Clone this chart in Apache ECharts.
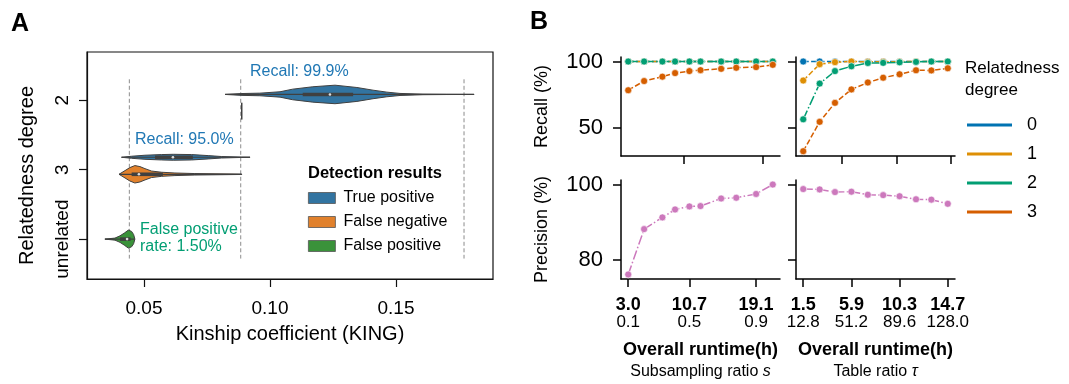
<!DOCTYPE html>
<html><head><meta charset="utf-8">
<script src="https://cdn.jsdelivr.net/npm/echarts@6/dist/echarts.min.js"></script>
<style>html,body{margin:0;padding:0;background:#fff}#c{width:1069px;height:384px}</style>
</head><body><div id="c"></div>
<script>
// ---------------- Panel A data ----------------
const relatednessCategories = ['2', '3', 'unrelated'];
const categoryTickPos = [0, 1, 2];
const kinshipTicks = [0.05, 0.10, 0.15];
const kingThresholds = [0.0442, 0.0884, 0.177];
const hueNames = ['True positive', 'False negative', 'False positive'];

// True positive, degree 2
const tp2Pos = -0.082;
const tp2Kinship = [0.0822, 0.0889, 0.096, 0.104, 0.109, 0.117, 0.1258, 0.1345, 0.1409, 0.1464, 0.1516, 0.1607, 0.170, 0.181];
const tp2Density = [0.0, 0.1, 0.14, 0.29, 0.57, 0.83, 1.0, 0.75, 0.46, 0.25, 0.11, 0.03, 0.01, 0.0];
const tp2Box = [0.113, 0.1238, 0.133];
// True positive, degree 3
const tp3Pos = 0.822;
const tp3Kinship = [0.0411, 0.0451, 0.0504, 0.057, 0.0616, 0.0689, 0.0755, 0.0808, 0.0888, 0.0921];
const tp3Density = [0.0, 0.11, 0.22, 0.29, 0.32, 0.29, 0.18, 0.08, 0.02, 0.0];
const tp3Box = [0.0544, 0.0615, 0.0694];
// False negative, degree 2 (single value)
const fn2Pos = 0.158;
const fn2Kinship = [0.0888];
const fn2Density = [0.91];
// False negative, degree 3
const fn3Pos = 1.067;
const fn3Kinship = [0.0401, 0.0425, 0.0444, 0.0464, 0.0484, 0.0504, 0.053, 0.057, 0.0623, 0.0702, 0.0888];
const fn3Density = [0.0, 0.4, 0.72, 0.94, 0.83, 0.61, 0.35, 0.22, 0.14, 0.08, 0.02];
const fn3Box = [0.0451, 0.048, 0.0575];
// False positive, unrelated
const fpPos = 2.0;
const fpKinship = [0.0345, 0.0385, 0.0405, 0.0422, 0.0438, 0.0451, 0.0459, 0.0464];
const fpDensity = [0.0, 0.11, 0.35, 0.65, 0.97, 0.83, 0.5, 0.0];
const fpBox = [0.0405, 0.0433, 0.0447];

// ---------------- Panel B data ----------------
const runtimeS = [3.0, 5.0, 7.3, 8.9, 10.7, 12.1, 14.7, 16.6, 19.1, 21.2];
const sRuntimeTicks = [3.0, 10.7, 19.1];
const sRatioTicks = ['0.1', '0.5', '0.9'];
const runtimeT = [1.5, 3.0, 4.4, 5.9, 7.4, 8.8, 10.3, 11.8, 13.2, 14.7];
const tRuntimeTicks = [1.5, 5.9, 10.3, 14.7];
const tRatioTicks = ['12.8', '51.2', '89.6', '128.0'];
const degreeNames = ['0', '1', '2', '3'];

const recallS0 = [100, 100, 100, 100, 100, 100, 100, 100, 100, 100];
const recallS1 = [100, 100, 100, 100, 100, 100, 100, 100, 100, 100];
const recallS2 = [100, 100, 100, 100, 100, 100, 100, 100, 100, 100];
const recallS3 = [78.4, 85.3, 88.6, 91.3, 92.8, 93.5, 94.5, 95.3, 95.8, 97.5];
const recallT0 = [100, 100, 100, 100, 100, 100, 100, 100, 100, 100];
const recallT1 = [85.7, 98.0, 99.5, 100, 99.8, 99.8, 99.9, 100, 100, 100];
const recallT2 = [56.5, 83.4, 92.8, 96.4, 98.9, 99.0, 99.4, 99.7, 100, 100];
const recallT3 = [32.5, 54.6, 68.9, 79.0, 84.2, 87.8, 90.4, 93.4, 93.3, 94.9];
const precisionS = [76.2, 88.2, 91.3, 93.4, 94.2, 94.3, 96.3, 96.5, 97.5, 100.0];
const precisionT = [98.8, 98.7, 98.0, 98.1, 97.3, 97.2, 96.9, 96.1, 96.0, 94.9];

// ---------------- styling ----------------
const FONT = 'Liberation Sans';
const violinColors = ['#3274a1', '#e1812c', '#3a923a'];
const degreeColors = ['#0173b2', '#de8f05', '#029e73', '#d55e00'];
const precisionColor = '#cc78bc';
const EDGE = '#404040';
const VIOLIN_HALF = 0.1335;
const DASHED = [5.5, 2.4];
const DASHDOT = [9.6, 2.4, 1.5, 2.4];

const violinsByHue = [
  [
    {pos: tp2Pos, kinship: tp2Kinship, density: tp2Density, box: tp2Box},
    {pos: tp3Pos, kinship: tp3Kinship, density: tp3Density, box: tp3Box}
  ],
  [
    {pos: fn2Pos, kinship: fn2Kinship, density: fn2Density, box: null},
    {pos: fn3Pos, kinship: fn3Kinship, density: fn3Density, box: fn3Box}
  ],
  [
    {pos: fpPos, kinship: fpKinship, density: fpDensity, box: fpBox}
  ]
];

function violinRenderer(violins, color) {
  return function (params, api) {
    const v = violins[params.dataIndex];
    const children = [];
    if (v.kinship.length === 1) {
      const a = api.coord([v.kinship[0], v.pos - v.density[0] * VIOLIN_HALF]);
      const b = api.coord([v.kinship[0], v.pos + v.density[0] * VIOLIN_HALF]);
      children.push({type: 'line', shape: {x1: a[0], y1: a[1], x2: b[0], y2: b[1]},
        style: {stroke: EDGE, lineWidth: 1.5}});
      return {type: 'group', children};
    }
    const upper = v.kinship.map((x, i) => api.coord([x, v.pos - v.density[i] * VIOLIN_HALF]));
    const lower = v.kinship.map((x, i) => api.coord([x, v.pos + v.density[i] * VIOLIN_HALF])).reverse();
    children.push({type: 'polygon', shape: {points: upper.concat(lower)},
      style: {fill: color, stroke: EDGE, lineWidth: 1}});
    const w0 = api.coord([v.kinship[0], v.pos]);
    const w1 = api.coord([v.kinship[v.kinship.length - 1], v.pos]);
    children.push({type: 'line', shape: {x1: w0[0], y1: w0[1], x2: w1[0], y2: w1[1]},
      style: {stroke: EDGE, lineWidth: 1.2}});
    if (v.box) {
      const q1 = api.coord([v.box[0], v.pos]);
      const q3 = api.coord([v.box[2], v.pos]);
      const md = api.coord([v.box[1], v.pos]);
      children.push({type: 'line', shape: {x1: q1[0], y1: q1[1], x2: q3[0], y2: q3[1]},
        style: {stroke: EDGE, lineWidth: 3.6}});
      children.push({type: 'circle', shape: {cx: md[0], cy: md[1], r: 1.3},
        style: {fill: '#dddddd', stroke: null}});
    }
    return {type: 'group', children};
  };
}

const series = [];
// threshold lines
series.push({
  type: 'custom', xAxisIndex: 0, yAxisIndex: 0, silent: true, z: 1,
  data: kingThresholds.map(t => [t]),
  renderItem: function (params, api) {
    const t = kingThresholds[params.dataIndex];
    const a = api.coord([t, -0.30]);
    const b = api.coord([t, 2.28]);
    return {type: 'line', shape: {x1: a[0], y1: a[1], x2: b[0], y2: b[1]},
      style: {stroke: '#8c8c8c', lineWidth: 1, lineDash: [4, 2.5]}};
  }
});
hueNames.forEach((name, h) => {
  series.push({
    type: 'custom', name, xAxisIndex: 0, yAxisIndex: 0, silent: true, z: 3,
    itemStyle: {color: violinColors[h]},
    data: violinsByHue[h].map(v => [v.box ? v.box[1] : v.kinship[0], v.pos]),
    renderItem: violinRenderer(violinsByHue[h], violinColors[h])
  });
});

function lineSeries(name, xs, ys, xi, color, dash) {
  return {
    type: 'line', name, xAxisIndex: xi, yAxisIndex: xi, silent: true,
    data: xs.map((x, i) => [x, ys[i]]),
    symbol: 'circle', symbolSize: 7, showSymbol: true,
    itemStyle: {color, borderColor: '#fff', borderWidth: 0.6},
    lineStyle: {color, width: 1.5, type: dash}
  };
}
const recallS = [recallS0, recallS1, recallS2, recallS3];
const recallT = [recallT0, recallT1, recallT2, recallT3];
const degreeDash = [DASHED, DASHED, DASHDOT, DASHED];
degreeNames.forEach((d, k) => series.push(lineSeries(d, runtimeS, recallS[k], 1, degreeColors[k], degreeDash[k])));
degreeNames.forEach((d, k) => series.push(lineSeries(d, runtimeT, recallT[k], 2, degreeColors[k], degreeDash[k])));
series.push(lineSeries('precision', runtimeS, precisionS, 3, precisionColor, DASHDOT));
series.push(lineSeries('precision', runtimeT, precisionT, 4, precisionColor, DASHDOT));

const axisLineB = {show: true, onZero: false, lineStyle: {color: '#000', width: 1.5}};
const tickB = (vals) => ({show: true, length: 8, customValues: vals, lineStyle: {color: '#000', width: 1.5}});

function bottomXAxis(grid, min, max, rtTicks, ratioTicks, nameLine2) {
  return {
    type: 'value', gridIndex: grid, min, max,
    axisLine: axisLineB, axisTick: tickB(rtTicks), splitLine: {show: false},
    axisLabel: {
      show: true, margin: 17, customValues: rtTicks, color: '#000',
      formatter: (v) => {
        const i = rtTicks.findIndex(r => Math.abs(r - v) < 1e-6);
        return '{b|' + rtTicks[i].toFixed(1) + '}\n{n|' + ratioTicks[i] + '}';
      },
      rich: {
        b: {fontFamily: FONT, fontWeight: 'bold', fontSize: 18, lineHeight: 18, color: '#000'},
        n: {fontFamily: FONT, fontSize: 17, lineHeight: 17, color: '#000'}
      }
    },
    name: nameLine2, nameLocation: 'middle', nameGap: 61,
    nameTextStyle: {
      rich: {
        b: {fontFamily: FONT, fontWeight: 'bold', fontSize: 18, lineHeight: 21, color: '#000'},
        n: {fontFamily: FONT, fontSize: 16, lineHeight: 21, color: '#000'},
        i: {fontFamily: FONT, fontStyle: 'italic', fontSize: 16, lineHeight: 21, color: '#000'}
      }
    }
  };
}
function topXAxis(grid, min, max, ticks) {
  return {type: 'value', gridIndex: grid, min, max, axisLine: axisLineB, axisTick: tickB(ticks),
    axisLabel: {show: false}, splitLine: {show: false}};
}
function yAxisB(grid, min, max, ticks, showLabel, name) {
  return {
    type: 'value', gridIndex: grid, min, max, axisLine: axisLineB, axisTick: tickB(ticks),
    splitLine: {show: false},
    axisLabel: {show: showLabel, customValues: ticks, margin: 18, fontSize: 22, fontFamily: FONT, color: '#000'},
    name: name || '', nameLocation: 'middle', nameGap: 70,
    nameTextStyle: {fontSize: 18, fontFamily: FONT, color: '#000'}
  };
}

const option = {
  animation: false,
  textStyle: {fontFamily: FONT, color: '#000'},
  grid: [
    {left: 87, top: 52, width: 406, height: 227, show: true, borderColor: '#111', borderWidth: 1.2, backgroundColor: 'transparent'},
    {left: 621, top: 57, width: 159, height: 99},
    {left: 796, top: 57, width: 159, height: 99},
    {left: 621, top: 180, width: 159, height: 99},
    {left: 796, top: 180, width: 159, height: 99}
  ],
  xAxis: [
    {
      type: 'value', gridIndex: 0, min: 0.0274, max: 0.1885,
      axisLine: {show: true, onZero: false, lineStyle: {color: '#111', width: 1.2}},
      axisTick: {show: true, length: 8, customValues: kinshipTicks, lineStyle: {color: '#111', width: 1.2}},
      axisLabel: {customValues: kinshipTicks, formatter: v => v.toFixed(2), fontSize: 19, margin: 20, color: '#000'},
      splitLine: {show: false},
      name: 'Kinship coefficient (KING)', nameLocation: 'middle', nameGap: 45,
      nameTextStyle: {fontSize: 20, color: '#000'}
    },
    topXAxis(1, 2.09, 22.11, [10, 20]),
    topXAxis(2, 0.84, 15.36, [5, 10, 15]),
    bottomXAxis(3, 2.09, 22.11, sRuntimeTicks, sRatioTicks, '{b|Overall runtime(h)}\n{n|Subsampling ratio }{i|s}'),
    bottomXAxis(4, 0.84, 15.36, tRuntimeTicks, tRatioTicks, '{b|Overall runtime(h)}\n{n|Table ratio }{i|τ}')
  ],
  yAxis: [
    {
      type: 'value', gridIndex: 0, inverse: true, min: -0.693, max: 2.574,
      axisLine: {show: true, onZero: false, lineStyle: {color: '#111', width: 1.2}},
      axisTick: {show: true, length: 8, customValues: categoryTickPos, lineStyle: {color: '#111', width: 1.2}},
      axisLabel: {customValues: categoryTickPos, rotate: 90, fontSize: 19, margin: 15, color: '#000',
        formatter: v => relatednessCategories[Math.round(v)]},
      splitLine: {show: false}
    },
    yAxisB(1, 28.9, 103.4, [50, 100], true, 'Recall (%)'),
    yAxisB(2, 28.9, 103.4, [50, 100], false),
    yAxisB(3, 75.0, 101.2, [80, 100], true, 'Precision (%)'),
    yAxisB(4, 75.0, 101.2, [80, 100], false)
  ],
  legend: [
    {
      data: hueNames, orient: 'vertical', left: 308, top: 190, padding: 0,
      icon: 'rect', itemWidth: 27, itemHeight: 11, itemGap: 8, selectedMode: false,
      itemStyle: {borderColor: '#555', borderWidth: 0.8},
      textStyle: {fontSize: 16, color: '#000', fontFamily: FONT, padding: [0, 0, 0, 3]}
    },
    {
      data: degreeNames, orient: 'vertical', left: 967, top: 116, padding: 0,
      icon: 'rect', itemWidth: 45, itemHeight: 3, itemGap: 11, selectedMode: false,
      itemStyle: {borderWidth: 0, opacity: 1},
      textStyle: {fontSize: 18, color: '#000', fontFamily: FONT, padding: [0, 0, 0, 10]}
    }
  ],
  graphic: [
    {type: 'text', x: 11, y: 24, style: {text: 'A', font: 'bold 25px "Liberation Sans"', fill: '#000', align: 'left', verticalAlign: 'middle'}},
    {type: 'text', x: 530, y: 22, style: {text: 'B', font: 'bold 25px "Liberation Sans"', fill: '#000', align: 'left', verticalAlign: 'middle'}},
    {type: 'text', x: 27, y: 175.5, rotation: Math.PI / 2, style: {text: 'Relatedness degree', font: '20px "Liberation Sans"', fill: '#000', align: 'center', verticalAlign: 'middle'}},
    {type: 'text', x: 250, y: 72, style: {text: 'Recall: 99.9%', font: '16px "Liberation Sans"', fill: '#1f77b4', align: 'left', verticalAlign: 'middle'}},
    {type: 'text', x: 135, y: 140, style: {text: 'Recall: 95.0%', font: '16px "Liberation Sans"', fill: '#1f77b4', align: 'left', verticalAlign: 'middle'}},
    {type: 'text', x: 140, y: 238.5, style: {text: 'False positive\nrate: 1.50%', font: '16px "Liberation Sans"', lineHeight: 17, fill: '#029e73', align: 'left', verticalAlign: 'middle'}},
    {type: 'text', x: 308, y: 173, style: {text: 'Detection results', font: 'bold 16.5px "Liberation Sans"', fill: '#000', align: 'left', verticalAlign: 'middle'}},
    {type: 'text', x: 965, y: 79, style: {text: 'Relatedness\ndegree', font: '17px "Liberation Sans"', lineHeight: 22, fill: '#000', align: 'left', verticalAlign: 'middle'}}
  ],
  series
};
const chart = echarts.init(document.getElementById('c'), null, {renderer: 'canvas'});
chart.setOption(option);
</script></body></html>
